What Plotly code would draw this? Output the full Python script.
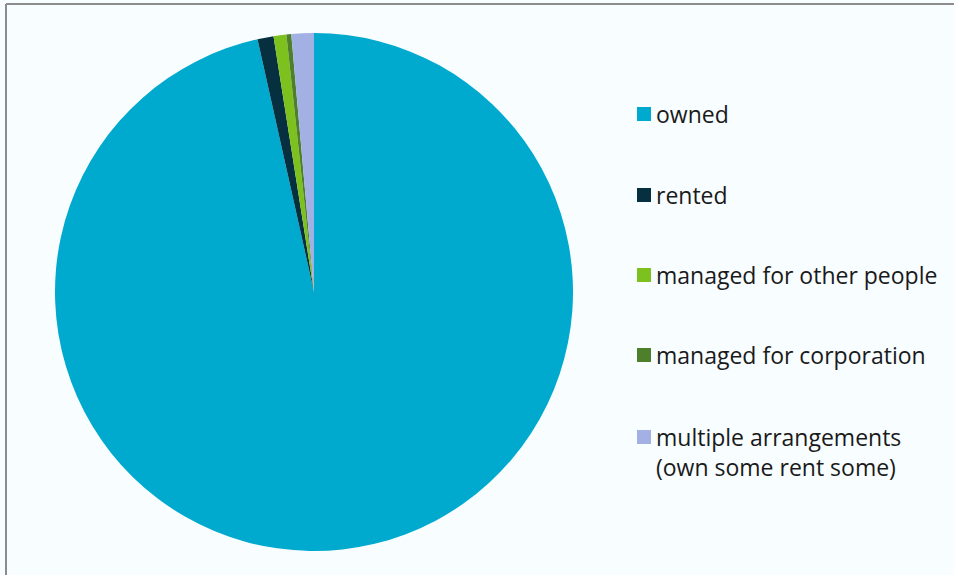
import plotly.graph_objects as go

# Land tenure shares (percent)
labels = ["owned", "rented", "managed for other people", "managed for corporation",
          "multiple arrangements<br>(own some rent some)"]
values = [96.5, 1.0, 0.8, 0.3, 1.4]
colors = ["#00AACE", "#06303F", "#7DC11E", "#4E7F2B", "#A2B0E3"]

W, H = 954, 575
bg = "#F8FDFF"

fig = go.Figure()
fig.add_trace(go.Pie(
    labels=labels,
    values=values,
    sort=False,
    direction="clockwise",
    rotation=0,
    textinfo="none",
    hoverinfo="label+percent",
    marker=dict(colors=colors, line=dict(width=0)),
    showlegend=False,
    domain=dict(x=[(314 - 259) / W, (314 + 259) / W],
                y=[1 - 551 / H, 1 - 33 / H]),
))

# Legend drawn as swatches + text on the right
shapes = []
annotations = []
leg_x = 637
sw = 14
rows_y = [114, 195, 275, 355, 437]
for lab, col, yc in zip(labels, colors, rows_y):
    shapes.append(dict(type="rect", xref="paper", yref="paper",
                       x0=leg_x / W, x1=(leg_x + sw) / W,
                       y0=1 - (yc + sw / 2) / H, y1=1 - (yc - sw / 2) / H,
                       fillcolor=col, line=dict(width=0)))
    annotations.append(dict(
        x=(leg_x + sw + 3) / W, y=1 - (yc - 18) / H,
        xref="paper", yref="paper", xanchor="left", yanchor="top",
        text=lab, showarrow=False, align="left",
        font=dict(family="Open Sans, sans-serif", size=23, color="#1A1A1A"),
    ))

# Frame lines along the top and left edges
shapes.append(dict(type="line", xref="paper", yref="paper",
                   x0=6 / W, x1=1.0, y0=1 - 4 / H, y1=1 - 4 / H,
                   line=dict(color="#8C8C8C", width=2)))
shapes.append(dict(type="line", xref="paper", yref="paper",
                   x0=6 / W, x1=6 / W, y0=0, y1=1 - 4 / H,
                   line=dict(color="#8C8C8C", width=2)))

fig.update_layout(
    width=W, height=H,
    margin=dict(l=0, r=0, t=0, b=0),
    paper_bgcolor=bg, plot_bgcolor=bg,
    shapes=shapes, annotations=annotations,
)

fig.write_html("out.html")
